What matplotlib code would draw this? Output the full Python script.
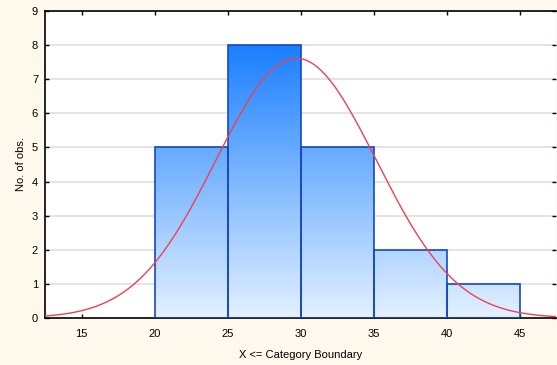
import numpy as np
import matplotlib
matplotlib.use("Agg")
import matplotlib.pyplot as plt
from matplotlib.colors import LinearSegmentedColormap
from matplotlib.patches import Rectangle

bin_edges = [20, 25, 30, 35, 40, 45]
counts = [5, 8, 5, 2, 1]
curve_mean = 29.7
curve_sd = 5.5
n_obs = 21
x_ticks = [15, 20, 25, 30, 35, 40, 45]
y_ticks = list(range(0, 10))

plt.rcParams['font.family'] = ['Liberation Sans', 'DejaVu Sans']

fig = plt.figure(figsize=(5.57, 3.65), dpi=100)
fig.patch.set_facecolor('#FFF8EC')
ax = fig.add_axes([45/557, 47/365, 511/557, 307/365])
ax.set_facecolor('white')

for y in y_ticks[1:]:
    ax.axhline(y, color='#E2E2E2', lw=1.3, zorder=0)

cmap = LinearSegmentedColormap.from_list('g', ['#E4F1FF', '#1A7FFF'])
grad = np.linspace(0, 1, 256).reshape(-1, 1)
for i, c in enumerate(counts):
    x0, x1 = bin_edges[i], bin_edges[i + 1]
    rect = Rectangle((x0, 0), x1 - x0, c, facecolor='none',
                     edgecolor='#1448C8', lw=1.2, zorder=3)
    ax.add_patch(rect)
    im = ax.imshow(grad, cmap=cmap, origin='lower', aspect='auto',
                   extent=(x0, x1, 0, 8), zorder=2, vmin=0, vmax=1)
    im.set_clip_path(rect)
ax.set_xlim(12.5, 47.5)
ax.set_ylim(0, 9)

xs = np.linspace(12.5, 47.5, 400)
w = bin_edges[1] - bin_edges[0]
ys = n_obs * w / (curve_sd * np.sqrt(2 * np.pi)) * np.exp(-0.5 * ((xs - curve_mean) / curve_sd) ** 2)
ax.plot(xs, ys, color='#F04050', lw=1.0, zorder=4)

ax.set_xticks(x_ticks)
ax.set_yticks(y_ticks)
ax.tick_params(direction='in', length=3, width=1, labelsize=8,
               top=True, right=True, colors='black')
ax.tick_params(axis='x', pad=8)
ax.tick_params(axis='y', pad=5)
for s in ax.spines.values():
    s.set_linewidth(1.2)
ax.spines['right'].set_visible(False)

ax.set_xlabel('X <= Category Boundary', fontsize=8, labelpad=8)
ax.set_ylabel('No. of obs.', fontsize=8)
ax.yaxis.set_label_coords(-0.038, 0.5)

fig.savefig('out.png', dpi=100, facecolor=fig.get_facecolor())
